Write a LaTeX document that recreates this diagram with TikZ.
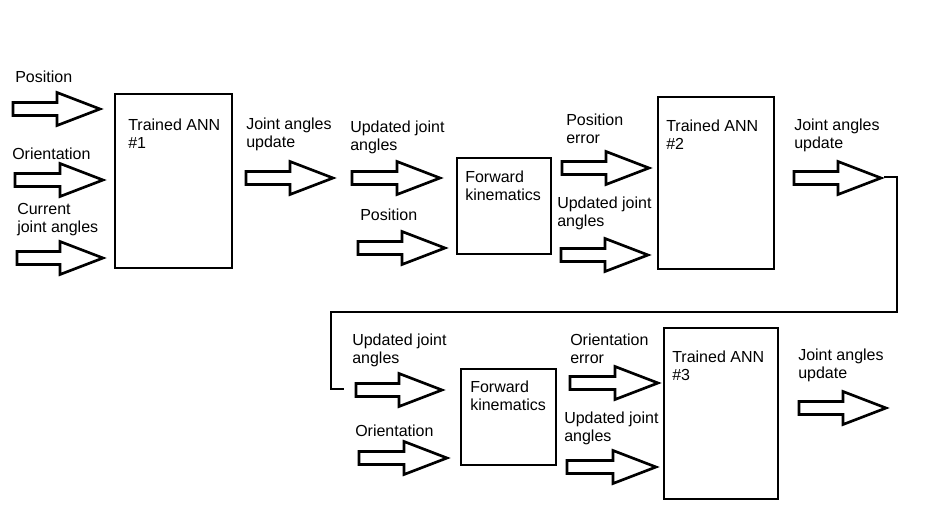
\documentclass[tikz,border=0pt]{standalone}
\usepackage{fontspec}
\setmainfont{Liberation Sans}
\begin{document}
\begin{tikzpicture}[x=0.75pt,y=-0.75pt,
  lw/.style={line width=2pt},
  fat/.style={lw,draw=black,line join=miter},
  box/.style={lw,draw=black,fill=none},
  lbl/.style={inner sep=0pt,anchor=west,align=left,font=\fontsize{12}{13.5}\selectfont}]
\useasboundingbox (0,0) rectangle (940,522);
\newcommand\fatarr[3]{%
  \draw[fat] (#1,{#3-6.5}) -- ({#2-43},{#3-6.5}) -- ({#2-43},{#3-16.5}) -- (#2,#3)
    -- ({#2-43},{#3+16.5}) -- ({#2-43},{#3+6.5}) -- (#1,{#3+6.5}) -- cycle;}
% row 1
\node[lbl] (lpos1) at (15,77) {Position};
\fatarr{13}{100}{109}
\node[lbl] (lori1) at (12,154) {Orientation};
\fatarr{15}{103}{180}
\node[lbl] (lcur) at (17,220) {Current\\joint angles};
\fatarr{17}{103}{258}
\draw[box] (115,94) rectangle (232,268);
\node[lbl] (ann1) at (128,134) {Trained ANN\\\#1};
\node[lbl] (ju1) at (246,134) {Joint angles\\update};
\fatarr{246}{333}{178}
\node[lbl] (uj1) at (350,137.5) {Updated joint\\angles};
\fatarr{352}{440}{178}
\node[lbl] (lpos2) at (360,215) {Position};
\fatarr{358}{445}{248}
\draw[box] (457,158) rectangle (551,254);
\node[lbl] (fk1) at (465,186) {Forward\\kinematics};
\node[lbl] (pe) at (566,128.5) {Position\\error};
\fatarr{562}{649}{168}
\node[lbl] (uj2) at (557,213) {Updated joint\\angles};
\fatarr{561}{648}{255}
\draw[box] (658,97) rectangle (774,269);
\node[lbl] (ann2) at (666,135) {Trained ANN\\\#2};
\node[lbl] (ju2) at (794,135) {Joint angles\\update};
\fatarr{794}{881}{178}
% feedback line
\coordinate (fbs) at (884,177);
\coordinate (fbe) at (344,389);
\draw[lw,line join=miter] (fbs) -| (897,312) -| (331,389) -- (fbe);
% row 2
\node[lbl] (uj3) at (352,350) {Updated joint\\angles};
\fatarr{356}{442}{390}
\node[lbl] (lori2) at (355,431) {Orientation};
\fatarr{359}{447}{458}
\draw[box] (461,369) rectangle (556,465);
\node[lbl] (fk2) at (470,396) {Forward\\kinematics};
\node[lbl] (oe) at (570,348.5) {Orientation\\error};
\fatarr{570}{658}{383}
\node[lbl] (uj4) at (564,428) {Updated joint\\angles};
\fatarr{567}{656}{467}
\draw[box] (664,328) rectangle (778,499);
\node[lbl] (ann3) at (672,366) {Trained ANN\\\#3};
\node[lbl] (ju3) at (798,365) {Joint angles\\update};
\fatarr{799}{886}{408}
\end{tikzpicture}
\end{document}
